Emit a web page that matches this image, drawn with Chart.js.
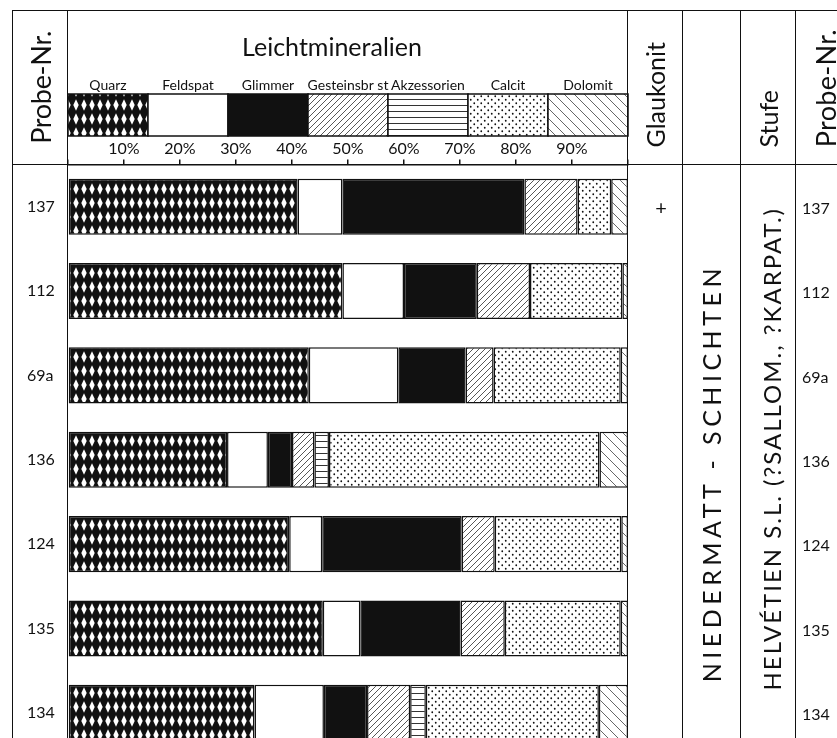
<!DOCTYPE html>
<html lang="de">
<head>
  <meta charset="UTF-8">
  <title>Leichtmineralien - Niedermatt-Schichten</title>
  <script src="https://cdn.jsdelivr.net/npm/chart.js"></script>
  <style>
    body { margin: 0; background: #fff; overflow: hidden; font-family: Lato, "DejaVu Sans", sans-serif; color: #111; }
    #wrap { position: relative; width: 837px; height: 738px; overflow: hidden; }
    #chart { position: absolute; left: 0; top: 0; }
    .vline { position: absolute; top: 10px; bottom: 0; border-left: 1.5px solid #111; }
    .hline { position: absolute; left: 12px; right: 0; border-top: 1.5px solid #111; }
    .vtext { position: absolute; display: flex; align-items: center; justify-content: center; }
    .vtext span { writing-mode: vertical-rl; transform: rotate(180deg); white-space: nowrap; }
    #title { position: absolute; left: 332px; top: 46px; transform: translate(-50%, -50%); font-size: 25px; white-space: nowrap; }
  </style>
</head>
<body>
  <div id="wrap">
    <canvas id="chart" width="837" height="775"></canvas>

    <!-- table frame -->
    <div class="hline" style="top:10px"></div>
    <div class="hline" style="top:164px"></div>
    <div class="vline" style="left:12px"></div>
    <div class="vline" style="left:67px"></div>
    <div class="vline" style="left:627px"></div>
    <div class="vline" style="left:682px; border-left-width:1px"></div>
    <div class="vline" style="left:740px; border-left-width:1px"></div>
    <div class="vline" style="left:795px; border-left-width:1px"></div>

    <!-- column headers -->
    <div id="title">Leichtmineralien</div>
    <div class="vtext" style="left:12px; width:56px; top:32px; height:111px"><span style="font-size:27px; letter-spacing:-0.3px">Probe-Nr.</span></div>
    <div class="vtext" style="left:628px; width:54px; top:43px; height:104px"><span style="font-size:25px">Glaukonit</span></div>
    <div class="vtext" style="left:740px; width:55px; top:91px; height:56px"><span style="font-size:25px">Stufe</span></div>
    <div class="vtext" style="left:808px; width:34px; top:30px; height:117px"><span style="font-size:27px; letter-spacing:0.3px">Probe-Nr.</span></div>

    <div class="vtext" style="left:682px; width:58px; top:268px; height:410px"><span style="font-size:25px; letter-spacing:4.5px">NIEDERMATT - SCHICHTEN</span></div>
    <div class="vtext" style="left:740px; width:62px; top:210px; height:477px"><span style="font-size:24px; letter-spacing:2px">HELVÉTIEN S.L. (?SALLOM., ?KARPAT.)</span></div>
  </div>

  <script>
    // samples, top to bottom
    const probeNr = ['137', '112', '69a', '136', '124', '135', '134'];

    // light mineral percentages per sample
    const quarz       = [41, 49, 43, 28.4, 39.5, 45.5, 33.3];
    const feldspat    = [8, 11, 16, 7.3, 5.9, 6.7, 12.4];
    const glimmer     = [32.5, 13, 12, 4.3, 24.9, 17.9, 7.7];
    const gestein     = [9.5, 9.5, 5, 4, 5.9, 7.9, 7.7];
    const akzessorien = [0, 0, 0, 2.6, 0, 0, 2.8];
    const calcit      = [6, 16.5, 22.7, 48.3, 22.6, 20.7, 30.9];
    const dolomit     = [3, 1, 1.3, 5.1, 1.2, 1.3, 5.2];

    const glaukonit = ['+', '', '', '', '', '', ''];

    const percentTicks = [10, 20, 30, 40, 50, 60, 70, 80, 90];

    // hatch patterns like in the printed figure
    function makePattern(kind) {
      const c = document.createElement('canvas');
      const g = c.getContext('2d');
      if (kind === 'quarz') {
        c.width = 8; c.height = 14;
        g.fillStyle = '#111'; g.fillRect(0, 0, 8, 14);
        g.fillStyle = '#fff';
        g.beginPath();
        g.moveTo(4, 1.2); g.lineTo(6.7, 7); g.lineTo(4, 12.8); g.lineTo(1.3, 7);
        g.closePath(); g.fill();
      } else if (kind === 'gestein') {
        c.width = 6; c.height = 6;
        g.fillStyle = '#fff'; g.fillRect(0, 0, 6, 6);
        g.strokeStyle = '#444'; g.lineWidth = 0.9;
        g.beginPath();
        g.moveTo(-1, 7); g.lineTo(7, -1);
        g.moveTo(-1, 1); g.lineTo(1, -1);
        g.moveTo(5, 7); g.lineTo(7, 5);
        g.stroke();
      } else if (kind === 'akzessorien') {
        c.width = 6; c.height = 6;
        g.fillStyle = '#fff'; g.fillRect(0, 0, 6, 6);
        g.strokeStyle = '#333'; g.lineWidth = 1;
        g.beginPath(); g.moveTo(0, 3.5); g.lineTo(6, 3.5); g.stroke();
      } else if (kind === 'calcit') {
        c.width = 7; c.height = 7;
        g.fillStyle = '#fff'; g.fillRect(0, 0, 7, 7);
        g.fillStyle = '#111';
        g.beginPath(); g.arc(1.75, 1.75, 0.9, 0, Math.PI * 2); g.fill();
        g.beginPath(); g.arc(5.25, 5.25, 0.9, 0, Math.PI * 2); g.fill();
      } else if (kind === 'dolomit') {
        c.width = 10; c.height = 10;
        g.fillStyle = '#fff'; g.fillRect(0, 0, 10, 10);
        g.strokeStyle = '#555'; g.lineWidth = 0.9;
        g.beginPath();
        g.moveTo(-1, -1); g.lineTo(11, 11);
        g.moveTo(9, -1); g.lineTo(11, 1);
        g.moveTo(-1, 9); g.lineTo(1, 11);
        g.stroke();
      }
      return g.createPattern(c, 'repeat');
    }

    const nz = arr => arr.map(v => (v === 0 ? null : v));

    function series(label, data, fill) {
      return {
        label: label,
        data: nz(data),
        backgroundColor: fill,
        borderColor: '#111',
        borderWidth: 1.5,
        borderSkipped: false,
        barPercentage: 0.665,
        categoryPercentage: 1
      };
    }

    // legend boxes in the header, Glaukonit marks and the right-hand sample column
    const headerPlugin = {
      id: 'headerPlugin',
      afterDraw(chart) {
        const { ctx, chartArea } = chart;
        const sets = chart.data.datasets;
        const w = (chartArea.right - chartArea.left) / sets.length;
        const top = chartArea.top - 70.5;
        const h = 42;
        ctx.save();
        ctx.lineWidth = 1.5;
        ctx.strokeStyle = '#111';
        ctx.font = '14px Lato';
        ctx.textAlign = 'center';
        ctx.textBaseline = 'alphabetic';
        sets.forEach((ds, i) => {
          const x = chartArea.left + i * w;
          ctx.fillStyle = ds.backgroundColor;
          ctx.fillRect(x, top, w, h);
          ctx.strokeRect(x, top, w, h);
          ctx.fillStyle = '#111';
          ctx.fillText(ds.label, x + w / 2, top - 4);
        });

        const yScale = chart.scales.y;
        ctx.textBaseline = 'middle';
        ctx.font = '20px Lato';
        glaukonit.forEach((mark, i) => {
          if (mark) ctx.fillText(mark, chartArea.right + 33, yScale.getPixelForValue(i) + 2);
        });
        ctx.font = '16px Lato';
        ctx.textAlign = 'left';
        probeNr.forEach((nr, i) => {
          ctx.fillText(nr, chartArea.right + 174, yScale.getPixelForValue(i) + 2);
        });
        ctx.restore();
      }
    };

    new Chart(document.getElementById('chart'), {
      type: 'bar',
      data: {
        labels: probeNr,
        datasets: [
          series('Quarz', quarz, makePattern('quarz')),
          series('Feldspat', feldspat, '#ffffff'),
          series('Glimmer', glimmer, '#111111'),
          series('Gesteinsbr st', gestein, makePattern('gestein')),
          series('Akzessorien', akzessorien, makePattern('akzessorien')),
          series('Calcit', calcit, makePattern('calcit')),
          series('Dolomit', dolomit, makePattern('dolomit'))
        ]
      },
      options: {
        indexAxis: 'y',
        responsive: false,
        devicePixelRatio: 1,
        animation: false,
        layout: { padding: { top: 134.5, left: 27, right: 209, bottom: 20 } },
        plugins: {
          legend: { display: false },
          tooltip: { enabled: false },
          title: { display: false }
        },
        scales: {
          x: {
            position: 'top',
            stacked: true,
            min: 0,
            max: 100,
            afterBuildTicks: axis => { axis.ticks = [0].concat(percentTicks, [100]).map(v => ({ value: v })); },
            afterFit: axis => { axis.height = 30; },
            ticks: {
              color: '#111',
              font: { family: 'Lato', size: 16 },
              padding: 1,
              maxRotation: 0,
              callback: v => (percentTicks.includes(v) ? v + '%' : '')
            },
            grid: { drawOnChartArea: false, drawTicks: true, tickLength: 5, color: '#111', lineWidth: 1.5 },
            border: { display: true, color: '#111', width: 1.5 }
          },
          y: {
            stacked: true,
            offset: true,
            afterFit: axis => { axis.width = 41; },
            ticks: {
              color: '#111',
              crossAlign: 'far',
              padding: 0,
              font: { family: 'Lato', size: 16 }
            },
            grid: { display: false },
            border: { display: false }
          }
        }
      },
      plugins: [headerPlugin]
    });
  </script>
</body>
</html>
